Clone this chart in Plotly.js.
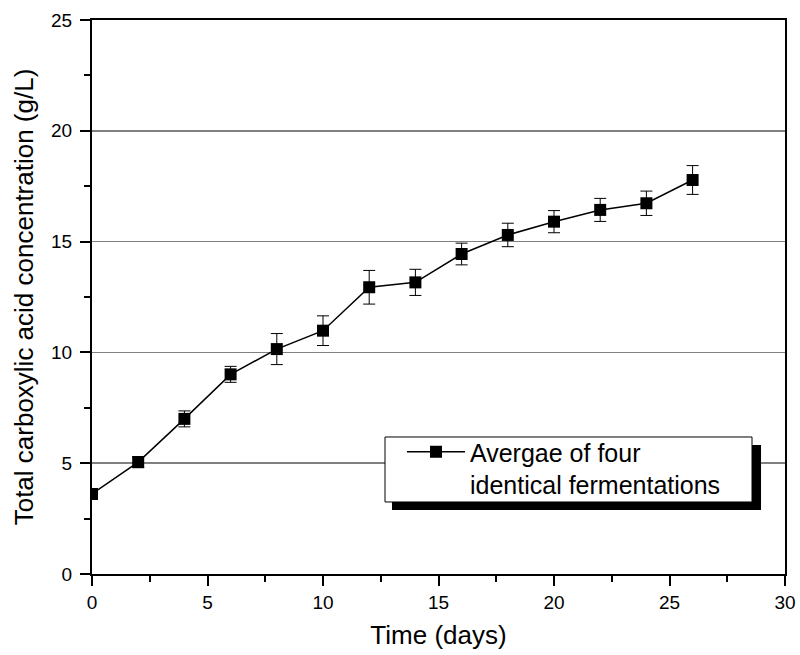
<!DOCTYPE html>
<html>
<head>
<meta charset="utf-8">
<script src="https://cdn.plot.ly/plotly-3.0.1.min.js"></script>
<style>html,body{margin:0;padding:0;background:#fff;}#chart{width:800px;height:655px;}</style>
</head>
<body>
<div id="chart"></div>
<script>
var days = [0, 2, 4, 6, 8, 10, 12, 14, 16, 18, 20, 22, 24, 26];
var concentration = [3.61, 5.05, 7.0, 9.01, 10.15, 10.98, 12.94, 13.16, 14.44, 15.30, 15.90, 16.43, 16.73, 17.78];
var stdError = [0.2, 0.25, 0.36, 0.36, 0.7, 0.67, 0.76, 0.59, 0.49, 0.53, 0.5, 0.52, 0.55, 0.65];
var seriesName = 'Avergae of four<br>identical fermentations';
var xTitle = 'Time (days)';
var yTitle = 'Total carboxylic acid concentration (g/L)';

var fontFamily = '"Liberation Sans", Arial, sans-serif';

var trace = {
  x: days,
  y: concentration,
  type: 'scatter',
  mode: 'lines+markers',
  name: seriesName,
  line: {color: '#000', width: 1.5},
  marker: {symbol: 'square', size: 12, color: '#000'},
  error_y: {type: 'data', array: stdError, visible: true, color: '#000', thickness: 1, width: 6}
};

var layout = {
  width: 800,
  height: 655,
  margin: {l: 92, r: 15, t: 20, b: 81},
  paper_bgcolor: '#fff',
  plot_bgcolor: '#fff',
  font: {family: fontFamily, color: '#000', size: 19},
  showlegend: true,
  legend: {
    x: 0.4473, y: 0.2617, xanchor: 'left', yanchor: 'top',
    bgcolor: 'rgba(0,0,0,0)', borderwidth: 0,
    itemwidth: 58, valign: 'top',
    font: {family: fontFamily, size: 25, color: '#000'}
  },
  xaxis: {
    range: [0, 30],
    tickmode: 'linear', tick0: 0, dtick: 5,
    ticks: 'outside', ticklen: 10, tickwidth: 2, tickcolor: '#000',
    minor: {dtick: 2.5, ticks: 'outside', ticklen: 6, tickwidth: 2, tickcolor: '#000', showgrid: false},
    showline: true, linecolor: '#000', linewidth: 2, mirror: true,
    showgrid: false, zeroline: false,
    tickfont: {size: 19},
    title: {text: xTitle, font: {size: 26}, standoff: 14}
  },
  yaxis: {
    range: [0, 25],
    tickmode: 'linear', tick0: 0, dtick: 5,
    ticks: 'outside', ticklen: 10, tickwidth: 2, tickcolor: '#000',
    ticklabelstandoff: 4,
    minor: {dtick: 2.5, ticks: 'outside', ticklen: 6, tickwidth: 2, tickcolor: '#000', showgrid: false},
    showline: true, linecolor: '#000', linewidth: 2, mirror: true,
    showgrid: true, gridcolor: '#808080', gridwidth: 1.5, zeroline: false,
    tickfont: {size: 19},
    title: {text: yTitle, font: {size: 26}, standoff: 10}
  },
  shapes: [
    {type: 'rect', xref: 'paper', yref: 'paper',
     x0: 0.4329, x1: 0.9654, y0: 0.1155, y1: 0.2329,
     fillcolor: '#000', line: {width: 0}, layer: 'above'},
    {type: 'rect', xref: 'paper', yref: 'paper',
     x0: 0.4228, x1: 0.9524, y0: 0.1300, y1: 0.2473,
     fillcolor: '#fff', line: {width: 1, color: '#000'}, layer: 'above'}
  ]
};

Plotly.newPlot('chart', [trace], layout, {displayModeBar: false, staticPlot: true});
</script>
</body>
</html>
